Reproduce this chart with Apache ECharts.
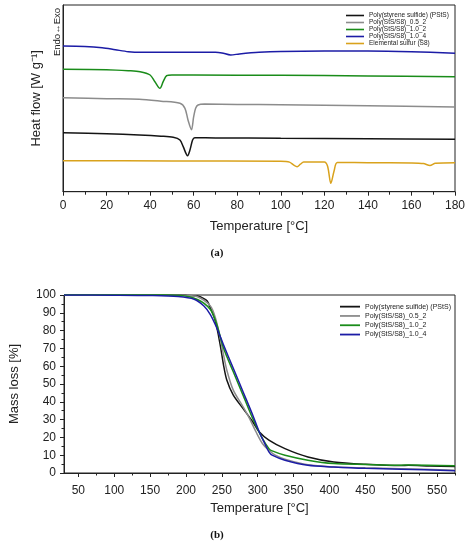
<!DOCTYPE html>
<html>
<head>
<meta charset="utf-8">
<title>DSC / TGA</title>
<script src="https://cdn.jsdelivr.net/npm/echarts@6/dist/echarts.min.js"></script>
<style>
  html, body { margin: 0; padding: 0; background: #fff; }
  #main { width: 469px; height: 550px; }
</style>
</head>
<body>
<div id="main"></div>
<script type="text/javascript">
// series names (legend order)
var names = ['Poly(styrene sulfide) (PStS)', 'Poly(StS/S8)_0.5_2', 'Poly(StS/S8)_1.0_2', 'Poly(StS/S8)_1.0_4', 'Elemental sulfur (S8)'];
var colors = ['#141414', '#8c8c8c', '#1a8c1a', '#1c1ca6', '#d9a21c'];

// (a) DSC, temperature [°C] vs heat flow (arbitrary offset units, curves stacked)
var dscPStS = [[0,5.9],[20,5.8],[35,5.67],[45,5.55],[50.6,5.44],[53.7,5.17],[55.2,4.5],[57.2,3.6],[58.3,4.17],[59.5,5.17],[60.5,5.4],[70,5.38],[100,5.34],[140,5.3],[180,5.24]];
var dsc05_2 = [[0,9.4],[20,9.3],[35,9.24],[45,9.05],[53.7,8.84],[56,8.34],[57.4,7.17],[59,6.2],[60,7.5],[60.9,8.34],[62,8.67],[65,8.76],[80,8.73],[100,8.7],[140,8.6],[180,8.47]];
var dsc10_2 = [[0,12.24],[20,12.2],[30,12.1],[35.4,12.0],[40,11.67],[42.2,11.0],[44.5,10.34],[46,11.0],[47.6,11.6],[50,11.68],[60,11.67],[100,11.64],[140,11.58],[180,11.5]];
var dsc10_4 = [[0,14.57],[10,14.53],[18,14.4],[24,14.2],[30,14.0],[36,13.94],[50,13.95],[70,13.95],[73,13.88],[77,13.67],[81,13.78],[90,13.95],[100,14.03],[140,14.07],[160,14.0],[180,13.84]];
var dscS8 = [[0,3.1],[50,3.08],[100,3.04],[104,2.96],[106,2.65],[107.5,2.5],[109,2.75],[110.5,2.97],[120,2.98],[121.5,2.55],[123,0.84],[124.5,2.1],[126,2.92],[140,2.9],[160,2.88],[165.5,2.82],[168.5,2.62],[171,2.84],[180,2.9]];

// (b) TGA, temperature [°C] vs mass [%]
var tgaPStS = [[30,100],[100,100],[150,100],[200,99.8],[216,99.4],[225,98],[229.6,96.6],[234,92.8],[241,85.3],[247.7,72],[252.3,60.8],[256.8,52.4],[265.8,43.9],[279.4,36.3],[293,28.8],[302,23.2],[315.6,18.5],[338,13.7],[370,9],[406,6.2],[450,4.9],[500,4.2],[510,4.3],[540,3.9],[575,3.6]];
var tga05_2 = [[30,100],[150,100],[200,99.7],[216,99],[234,93.8],[241,87.2],[247.7,75.9],[252.3,66.5],[256.8,58],[265.8,46.7],[279.4,37.3],[288.5,30.7],[297.5,23.2],[306.5,16.6],[315.6,12.8],[324.6,10],[338,7.8],[370,4.6],[406,3.4],[450,2.9],[500,2.4],[575,1.6]];
var tga10_2 = [[30,100.3],[150,100.2],[190,99.8],[216,97.5],[234,91.9],[243,83.4],[252.3,70.2],[265.8,57],[279.4,43.9],[293,30.7],[306.5,19.4],[315.6,13.7],[320.1,12.4],[338,10],[370,7.2],[406,5.3],[450,4.8],[500,4.4],[510,4.5],[575,4.1]];
var tga10_4 = [[30,100],[100,99.9],[150,99.7],[189,99.1],[211.5,97.6],[225,93.8],[234,89],[243,81.5],[252.3,72],[265.8,59],[279.4,45.8],[293,32.6],[302,23.2],[311,15.6],[315.6,11.9],[320.1,10],[338,7.2],[370,4.3],[406,3.4],[450,2.6],[500,2.1],[575,1.3]];

// tick values for (b) x axis (range starts at 30)
var tgaMajorT = [50,100,150,200,250,300,350,400,450,500,550];
var tgaMinorT = [75,125,175,225,275,325,375,425,475,525,575];

var FONT = '"Liberation Sans", Arial, sans-serif';
var dscSets = [dscPStS, dsc05_2, dsc10_2, dsc10_4, dscS8];
var tgaSets = [tgaPStS, tga05_2, tga10_2, tga10_4];

function line(name, color, data, xi, yi) {
    return {
        type: 'line', name: name, data: data,
        xAxisIndex: xi, yAxisIndex: yi,
        showSymbol: false, smooth: 0.3,
        lineStyle: { color: color, width: 1.5 },
        itemStyle: { color: color },
        animation: false
    };
}

var series = [];
for (var i = 0; i < dscSets.length; i++) series.push(line(names[i], colors[i], dscSets[i], 0, 0));
for (var j = 0; j < tgaSets.length; j++) series.push(line(names[j], colors[j], tgaSets[j], 1, 1));

var axisTxt = { color: '#222', fontFamily: FONT, fontSize: 12 };
var nameTxt = { color: '#222', fontFamily: FONT, fontSize: 13 };

var option = {
    animation: false,
    backgroundColor: '#fff',
    grid: [
        { left: 63, width: 392, top: 5, height: 186.7, show: true, borderColor: '#222', borderWidth: 1 },
        { left: 63, width: 392, top: 295, height: 178, show: true, borderColor: '#222', borderWidth: 1 }
    ],
    legend: [
        {
            data: names, left: 341, top: 7, orient: 'vertical',
            icon: 'rect', itemWidth: 18, itemHeight: 1.6, itemGap: 0, itemTextGap: 3,
            textStyle: { fontFamily: FONT, fontSize: 6.5, color: '#222', lineHeight: 5.6 }
        },
        {
            data: names.slice(0, 4), left: 335, top: 298, orient: 'vertical',
            icon: 'rect', itemWidth: 20, itemHeight: 1.8, itemGap: 2, itemTextGap: 2,
            textStyle: { fontFamily: FONT, fontSize: 7, color: '#222', lineHeight: 7.3 }
        }
    ],
    xAxis: [
        {
            gridIndex: 0, type: 'value', min: 0, max: 180, interval: 20,
            name: 'Temperature [°C]', nameLocation: 'middle', nameGap: 28, nameTextStyle: nameTxt,
            axisLine: { lineStyle: { color: '#222' } },
            axisTick: { inside: false, length: 4, lineStyle: { color: '#222' } },
            minorTick: { show: true, splitNumber: 2, length: 3, lineStyle: { color: '#222' } },
            axisLabel: Object.assign({ margin: 8 }, axisTxt),
            splitLine: { show: false }
        },
        {
            gridIndex: 1, type: 'value', min: 30, max: 575,
            name: 'Temperature [°C]', nameLocation: 'middle', nameGap: 29, nameTextStyle: nameTxt,
            axisLine: { lineStyle: { color: '#222' } },
            axisTick: { inside: false, length: 4, customValues: tgaMajorT, lineStyle: { color: '#222' } },
            axisLabel: Object.assign({ margin: 12, customValues: tgaMajorT }, axisTxt),
            splitLine: { show: false }
        },
        {
            gridIndex: 1, type: 'value', min: 30, max: 575, position: 'bottom',
            axisLine: { show: false },
            axisTick: { inside: false, length: 2.5, customValues: tgaMinorT, lineStyle: { color: '#222' } },
            axisLabel: { show: false },
            splitLine: { show: false }
        }
    ],
    yAxis: [
        {
            gridIndex: 0, type: 'value', min: 0, max: 18.67,
            name: 'Heat flow [W g⁻¹]', nameLocation: 'middle', nameGap: 20, nameTextStyle: nameTxt,
            axisLine: { show: true, lineStyle: { color: '#222' } },
            axisTick: { show: false }, axisLabel: { show: false },
            splitLine: { show: false }
        },
        {
            gridIndex: 1, type: 'value', min: 0, max: 100, interval: 10,
            name: 'Mass loss [%]', nameLocation: 'middle', nameGap: 43, nameTextStyle: nameTxt,
            axisLine: { show: true, lineStyle: { color: '#222' } },
            axisTick: { inside: false, length: 4, lineStyle: { color: '#222' } },
            minorTick: { show: true, splitNumber: 2, length: 2.5, lineStyle: { color: '#222' } },
            axisLabel: Object.assign({ margin: 8 }, axisTxt),
            splitLine: { show: false }
        }
    ],
    graphic: [
        {
            type: 'text', x: 57, y: 32, rotation: Math.PI / 2,
            style: { text: 'Endo↔Exo', fontFamily: FONT, fontSize: 9.5, fill: '#222', align: 'center', verticalAlign: 'middle' }
        },
        {
            type: 'text', x: 217, y: 253,
            style: { text: '(a)', fontFamily: '"Liberation Serif", serif', fontWeight: 'bold', fontSize: 11, fill: '#111', align: 'center', verticalAlign: 'middle' }
        },
        {
            type: 'text', x: 217, y: 535,
            style: { text: '(b)', fontFamily: '"Liberation Serif", serif', fontWeight: 'bold', fontSize: 11, fill: '#111', align: 'center', verticalAlign: 'middle' }
        }
    ],
    series: series
};

var myChart = echarts.init(document.getElementById('main'));
myChart.setOption(option);
</script>
</body>
</html>
